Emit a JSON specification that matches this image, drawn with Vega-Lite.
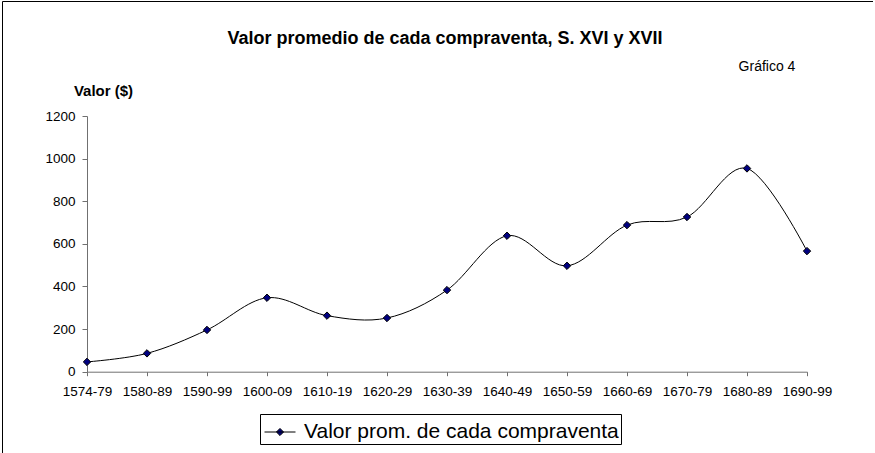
{
  "$schema": "https://vega.github.io/schema/vega-lite/v6.json",
  "width": 871,
  "height": 452,
  "autosize": "none",
  "padding": {"left": 2, "top": 1, "right": 0, "bottom": 0},
  "background": "white",
  "config": {
    "view": {"stroke": "#000000", "strokeWidth": 1},
    "font": "Liberation Sans"
  },
  "title": {
    "text": "Valor promedio de cada compraventa, S. XVI y XVII",
    "font": "Liberation Sans",
    "fontSize": 18,
    "fontWeight": "bold",
    "color": "#000000",
    "anchor": "middle",
    "frame": "group",
    "baseline": "middle",
    "offset": 0,
    "dx": 7.5,
    "dy": 56
  },
  "data": {
    "values": [
      {"periodo": "1574-79", "valor": 46},
      {"periodo": "1580-89", "valor": 86},
      {"periodo": "1590-99", "valor": 196},
      {"periodo": "1600-09", "valor": 347},
      {"periodo": "1610-19", "valor": 263},
      {"periodo": "1620-29", "valor": 252},
      {"periodo": "1630-39", "valor": 383},
      {"periodo": "1640-49", "valor": 638},
      {"periodo": "1650-59", "valor": 497},
      {"periodo": "1660-69", "valor": 688},
      {"periodo": "1670-79", "valor": 726},
      {"periodo": "1680-89", "valor": 954},
      {"periodo": "1690-99", "valor": 566}
    ]
  },
  "encoding": {
    "x": {
      "field": "periodo",
      "type": "ordinal",
      "sort": null,
      "scale": {"type": "point", "range": [85, 805], "padding": 0},
      "axis": {
        "title": "Gráfico 4",
        "titleFont": "Liberation Sans",
        "titleFontSize": 14,
        "titleFontWeight": "normal",
        "titleColor": "#000000",
        "titleAlign": "center",
        "titleBaseline": "middle",
        "titleX": 764.5,
        "titleY": -305.7,
        "offset": -81.3,
        "labelAngle": 0,
        "labelFont": "Liberation Sans",
        "labelFontSize": 13.5,
        "labelColor": "#000000",
        "labelBaseline": "middle",
        "labelPadding": 16,
        "labelOverlap": false,
        "labelFlush": false,
        "tickSize": 4,
        "tickColor": "#707070",
        "domainColor": "#707070",
        "grid": false
      }
    },
    "y": {
      "field": "valor",
      "type": "quantitative",
      "scale": {"domain": [0, 1200], "range": [370.7, 115], "nice": false},
      "axis": {
        "title": "Valor ($)",
        "titleFont": "Liberation Sans",
        "titleFontSize": 15,
        "titleFontWeight": "bold",
        "titleColor": "#000000",
        "titleAngle": 0,
        "titleAlign": "center",
        "titleBaseline": "middle",
        "titleX": 16,
        "titleY": 89,
        "offset": -85,
        "values": [0, 200, 400, 600, 800, 1000, 1200],
        "format": "d",
        "labelFont": "Liberation Sans",
        "labelFontSize": 13.5,
        "labelColor": "#000000",
        "labelPadding": 7,
        "tickSize": 5,
        "tickColor": "#707070",
        "domainColor": "#707070",
        "grid": false
      }
    }
  },
  "layer": [
    {
      "mark": {"type": "line", "interpolate": "cardinal", "color": "#000000", "strokeWidth": 1}
    },
    {
      "mark": {"type": "point", "shape": "diamond", "filled": true, "size": 55, "stroke": "#000000", "strokeWidth": 1, "opacity": 1},
      "encoding": {
        "color": {
          "datum": "Valor prom. de cada compraventa",
          "type": "nominal",
          "scale": {"range": ["#000080"]},
          "legend": {
            "orient": "none",
            "legendX": 258,
            "legendY": 413,
            "title": null,
            "strokeColor": "#000000",
            "fillColor": "#ffffff",
            "padding": 2,
            "labelFont": "Liberation Sans",
            "labelFontSize": 21,
            "labelColor": "#000000",
            "labelLimit": 0,
            "labelOffset": 8,
            "symbolOffset": 2,
            "symbolType": "M-1,0L1,0M0,-0.23L0.23,0L0,0.23L-0.23,0Z",
            "symbolSize": 961,
            "symbolFillColor": "#000080",
            "symbolStrokeColor": "#000000",
            "symbolStrokeWidth": 1,
            "symbolOpacity": 1
          }
        }
      }
    }
  ]
}
